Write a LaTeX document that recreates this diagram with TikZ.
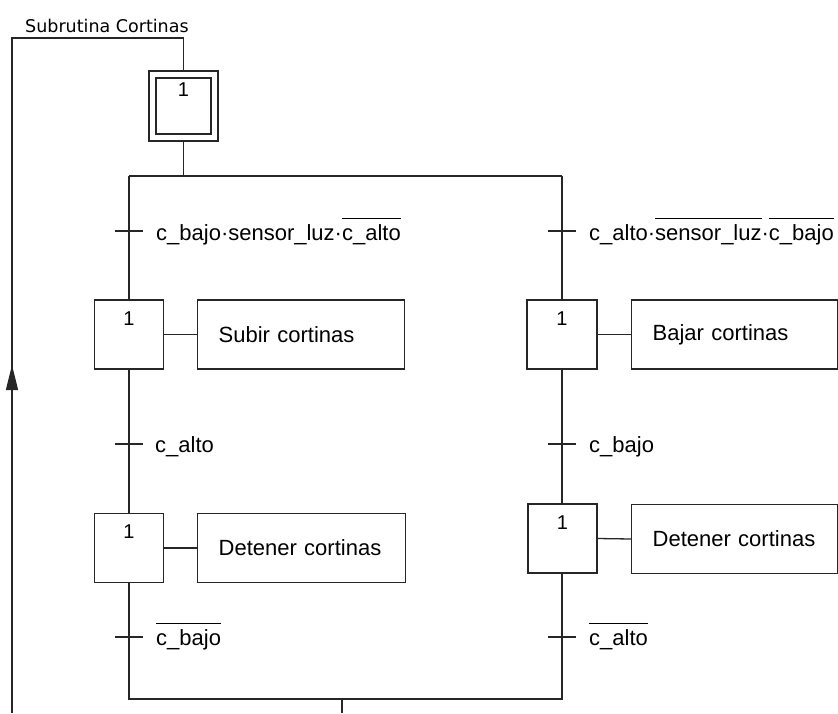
\documentclass[tikz,border=0pt]{standalone}
\usepackage{fontspec}
\setmainfont{Liberation Sans}
\newfontfamily\titlefont{DejaVu Sans}
\usetikzlibrary{arrows.meta}
\newlength\ovlw
\newcommand\negbar[1]{\settowidth\ovlw{#1}\rlap{\rule[0.95em]{\ovlw}{0.06em}}#1}
\tikzset{
  x=1pt,y=-1pt,
  line/.style={line width=1.3pt,draw=black!85},
  stepbox/.style={line, rectangle, minimum width=69pt, minimum height=69pt, inner sep=0pt},
  initbox/.style={line, rectangle, minimum width=69pt, minimum height=70pt, inner sep=0pt},
  innerbox/.style={line, rectangle, minimum width=55pt, minimum height=56pt, inner sep=0pt},
  actbox/.style={line, rectangle, minimum height=69pt, text width=#1, inner xsep=21pt, inner ysep=0pt, align=left, font=\fontsize{22}{26}\selectfont},
  stepnum/.style={anchor=north, inner sep=0pt, font=\fontsize{20}{24}\selectfont},
  cond/.style={anchor=base west, inner sep=0pt, font=\fontsize{22}{26}\selectfont},
}
\begin{document}
\begin{tikzpicture}
\useasboundingbox (0,0) rectangle (838,713);
% title
\node[anchor=base west, inner sep=0pt, font=\titlefont\fontsize{17.5}{21}\selectfont] (title) at (25,32) {Subrutina Cortinas};
% initial step
\node[initbox] (s0) at (183.5,106) {};
\node[innerbox] (s0in) at (183.5,106) {};
\node[stepnum] (n0) at (183.5,83) {1};
% junction coordinates
\coordinate (topj) at (183.5,176);
\coordinate (jl) at (129,176);
\coordinate (jr) at (562,176);
\coordinate (bl) at (129,699);
\coordinate (br) at (562,699);
\coordinate (bm) at (342,699);
\coordinate (bmend) at (342,713);
\coordinate (retb) at (12,713);
\coordinate (rett) at (12,38);
\coordinate (rettr) at (183.5,38);
\coordinate (arrowbase) at (12,390);
\coordinate (arrowtip) at (12,365);
% left steps
\node[stepbox] (s1) at (129,334.5) {};
\node[stepnum] (n1) at (129,312) {1};
\node[actbox=165pt, anchor=west] (a1) at (197,334.5) {Subir cortinas};
\node[stepbox] (s2) at (129,548) {};
\node[stepnum] (n2) at (129,525) {1};
\node[actbox=166pt, anchor=west] (a2) at (197,548) {Detener cortinas};
% right steps
\node[stepbox, minimum width=70pt] (s3) at (562,334.5) {};
\node[stepnum] (n3) at (562,312) {1};
\node[actbox=164pt, anchor=west] (a3) at (631,334.5) {Bajar cortinas};
\node[stepbox] (s4) at (562.5,538.5) {};
\node[stepnum] (n4) at (562.5,516) {1};
\node[actbox=164pt, anchor=west] (a4) at (631,539) {Detener cortinas};
% transitions (ticks)
\coordinate (t1) at (129,231);
\coordinate (t2) at (129,444);
\coordinate (t3) at (129,637);
\coordinate (t4) at (562,231);
\coordinate (t5) at (562,444);
\coordinate (t6) at (562,637);
\foreach \t in {t1,t2,t3,t4,t5,t6}{
  \draw[line] ([xshift=-14pt]\t) -- ([xshift=14pt]\t);
}
% condition labels
\node[cond] (c1) at (156,240) {c\_bajo·sensor\_luz·\negbar{c\_alto}};
\node[cond] (c2) at (155,452) {c\_alto};
\node[cond] (c3) at (156,645) {\negbar{c\_bajo}};
\node[cond] (c4) at (589,240) {c\_alto·\negbar{sensor\_luz}·\negbar{c\_bajo}};
\node[cond] (c5) at (589,452) {c\_bajo};
\node[cond] (c6) at (589,645) {\negbar{c\_alto}};
% connections
\draw[line] (s0.south) -- (topj);
\draw[line] (jl) -- (jr);
\draw[line] (jl) -- (s1.north);
\draw[line] (jr) -- (s3.north);
\draw[line] (s1.south) -- (s2.north);
\draw[line] (s3.south) -- (s3.south |- s4.north);
\draw[line] (s2.south) -- (bl) -- (br) -- (s3.south |- s4.south);
\draw[line] (bm) -- (bmend);
\draw[line] (s1.east) -- (a1.west);
\draw[line] (s2.east) -- (a2.west);
\draw[line] (s3.east) -- (a3.west);
\draw[line] (s4.east) -- (a4.west);
% return line
\draw[line] (retb) -- (rett) -- (rettr) -- (s0.north);
\draw[line, -{Triangle[length=25pt,width=12pt]}] (arrowbase) -- (arrowtip);
\end{tikzpicture}
\end{document}
